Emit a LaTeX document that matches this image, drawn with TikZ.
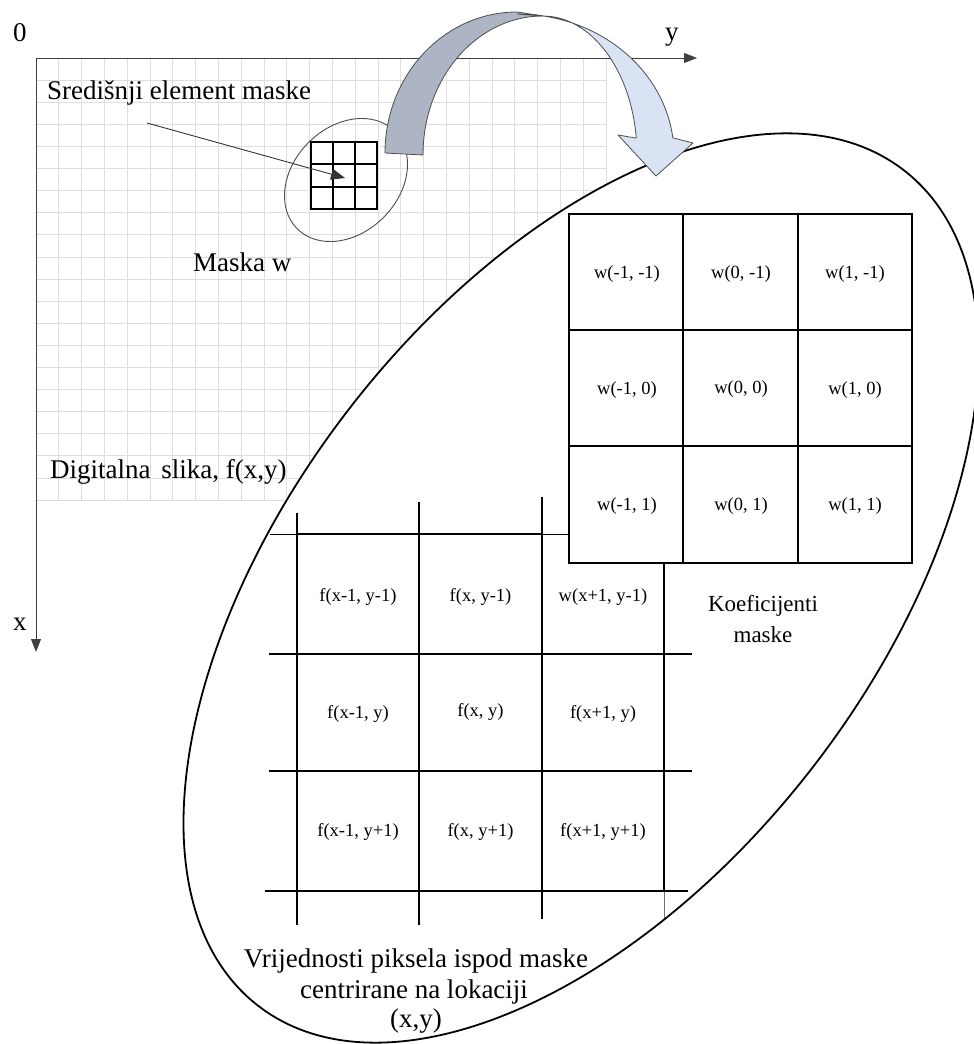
\documentclass[tikz,border=0pt]{standalone}
\usepackage{fontspec}
\setmainfont{Liberation Serif}
\usetikzlibrary{arrows.meta}
\definecolor{bandgray}{HTML}{ADB5C5}
\definecolor{bandlight}{HTML}{DAE3F3}
\definecolor{bandedge}{HTML}{4D4D4D}
\begin{document}
\begin{tikzpicture}[x=1pt,y=1pt,
  gridline/.style={draw=black!13, line width=0.8pt},
  axisline/.style={draw=black!75, line width=1pt},
  maskline/.style={draw=black, line width=2pt},
  thinline/.style={draw=black, line width=1pt},
  biglabel/.style={font=\fontsize{27}{31}\selectfont, inner sep=0pt},
  midlabel/.style={font=\fontsize{23}{27}\selectfont, inner sep=0pt},
  celllabel/.style={font=\fontsize{18.5}{21}\selectfont, inner sep=0pt},
  tipstyle/.style={-{Triangle[length=13pt,width=10pt]}},
  band/.style={draw=bandedge, line width=0.8pt, line join=round}
]
\useasboundingbox (0,0) rectangle (974,-1044);

% background grid
\foreach \i in {0,...,25} \draw[gridline] ({36+\i*22.8},-58) -- ({36+\i*22.8},-500);
\foreach \j in {0,...,20} \draw[gridline] (36,{-58-\j*22.1}) -- (606,{-58-\j*22.1});

% axes
\coordinate (orig) at (36,-58);
\coordinate (yend) at (697,-58);
\coordinate (xend) at (36,-652);
\draw[axisline,tipstyle] (orig) -- (yend);
\draw[axisline,tipstyle] (orig) -- (xend);
\node[biglabel, anchor=base west] (zero) at (13,-41) {0};
\node[biglabel, anchor=base west] (ylab) at (665,-40) {y};
\node[biglabel, anchor=base west] (xlab) at (13,-630) {x};

% small ellipse and mask
\draw[draw=black!70, line width=0.9pt, rotate around={45:(346,-180)}] (346,-180) ellipse [x radius=69, y radius=53];
\node[maskline, fill=white, minimum width=66pt, minimum height=67pt, inner sep=0pt] (mask) at (344,-175.5) {};
\draw[maskline] (333,-142) -- (333,-209);
\draw[maskline] (355,-142) -- (355,-209);
\draw[maskline] (311,-164.3) -- (377,-164.3);
\draw[maskline] (311,-186.7) -- (377,-186.7);
\coordinate (ptrstart) at (147,-123);
\coordinate (ptrend) at (345,-178);
\draw[draw=black!80, line width=0.9pt, -{Triangle[length=14pt,width=11pt]}] (ptrstart) -- (ptrend);

\node[biglabel, anchor=base west] (central) at (47,-99) {Središnji element maske};
\node[biglabel, anchor=base west] (maskw) at (193,-271) {Maska w};

% big ellipse
\draw[line width=1.8pt, fill=white, rotate around={52.3:(581,-588)}] (581,-588) ellipse [x radius=528, y radius=293];

\node[biglabel, anchor=base west] (digital) at (50,-478) {Digitalna\hspace{0.15em} slika, f(x,y)};

% pixel grid (f)
\draw[thinline] (270,-534) -- (568,-534);
\draw[maskline] (297,-534) -- (542,-534);
\draw[maskline] (297,-513) -- (297,-925);
\draw[maskline] (419,-502) -- (419,-925);
\draw[maskline] (542,-497) -- (542,-919);
\draw[maskline] (664,-563) -- (664,-891);
\draw[draw=black!55, line width=1pt] (664,-891) -- (664,-918);
\draw[maskline] (269,-654) -- (692,-654);
\draw[maskline] (269,-771) -- (692,-771);
\draw[maskline] (265,-891) -- (688,-891);

\foreach \lab/\cx/\cy/\nm in {f(x-1{,} y-1)/358/-597/f11, f(x{,} y-1)/480.5/-597/f12, w(x+1{,} y-1)/603/-597/f13,
  f(x-1{,} y)/358/-714/f21, f(x{,} y)/480.5/-712/f22, f(x+1{,} y)/603/-714/f23,
  f(x-1{,} y+1)/358/-832/f31, f(x{,} y+1)/480.5/-832/f32, f(x+1{,} y+1)/603/-832/f33}
  \node[celllabel] (\nm) at (\cx,\cy) {\lab};

% mask coefficient grid (w)
\node[maskline, fill=white, minimum width=343pt, minimum height=349pt, inner sep=0pt] (wgrid) at (740.5,-388.5) {};
\draw[maskline] (683,-214) -- (683,-563);
\draw[maskline] (798,-214) -- (798,-563);
\draw[maskline] (569,-330) -- (912,-330);
\draw[maskline] (569,-446) -- (912,-446);

\foreach \lab/\cx/\cy/\nm in {w(-1{,} -1)/627/-274/w11, w(0{,} -1)/741/-274/w12, w(1{,} -1)/855/-274/w13,
  w(-1{,} 0)/627/-390/w21, w(0{,} 0)/741/-389/w22, w(1{,} 0)/855/-390/w23,
  w(-1{,} 1)/627/-506/w31, w(0{,} 1)/741/-506/w32, w(1{,} 1)/855/-506/w33}
  \node[celllabel] (\nm) at (\cx,\cy) {\lab};

\node[midlabel, anchor=base] (koef1) at (763,-611) {Koeficijenti};
\node[midlabel, anchor=base] (koef2) at (763,-642) {maske};

\node[biglabel, anchor=base] (vr1) at (416,-967) {Vrijednosti piksela ispod maske};
\node[biglabel, anchor=base] (vr2) at (414,-998) {centrirane na lokaciji};
\node[biglabel, anchor=base] (vr3) at (416,-1027) {(x,y)};

% curved block arrow
\draw[band, fill=bandgray] (385,-153) arc[start angle=180, end angle=90, x radius=132, y radius=141]
  -- (543,-16) arc[start angle=90, end angle=180, x radius=120, y radius=139] -- cycle;
\draw[band, fill=bandlight] (517,-14) arc[start angle=90, end angle=7, x radius=157, y radius=141]
  -- (693,-143) -- (656,-176) -- (618,-135) -- (636.3,-138.1)
  arc[start angle=7, end angle=90, x radius=94, y radius=139] -- cycle;
\end{tikzpicture}
\end{document}
